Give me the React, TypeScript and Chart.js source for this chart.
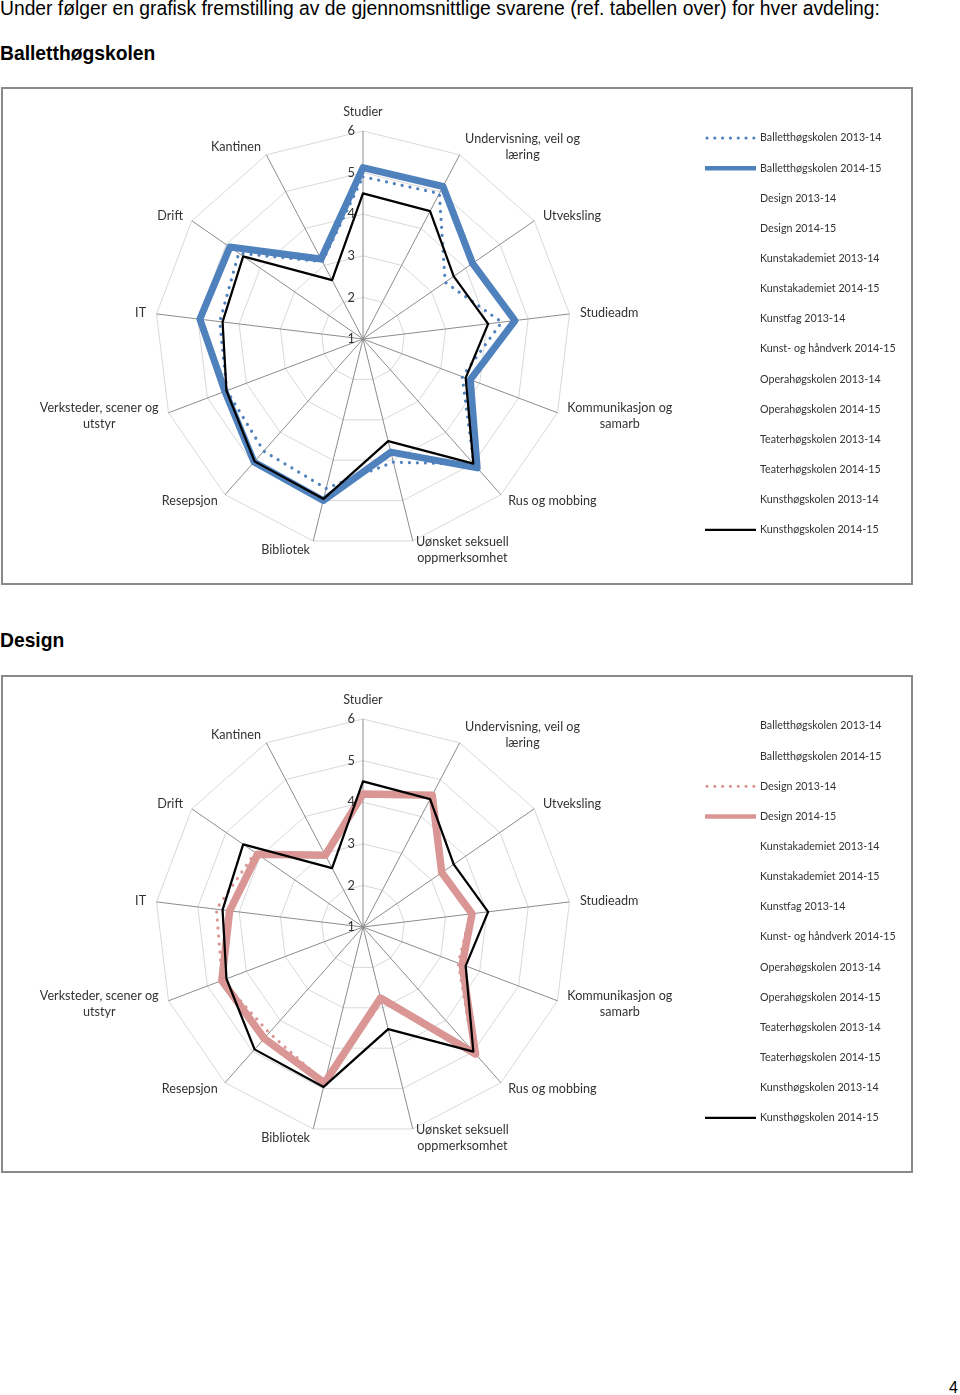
import React, { useEffect, useRef } from 'react';
import { Chart, registerables } from 'chart.js';

Chart.register(...registerables);

// ---------- data ----------
const categories: string[][] = [
  ['Studier'],
  ['Undervisning, veil og', 'læring'],
  ['Utveksling'],
  ['Studieadm'],
  ['Kommunikasjon og', 'samarb'],
  ['Rus og mobbing'],
  ['Uønsket seksuell', 'oppmerksomhet'],
  ['Bibliotek'],
  ['Resepsjon'],
  ['Verksteder, scener og', 'utstyr'],
  ['IT'],
  ['Drift'],
  ['Kantinen'],
];

const tickLabels = [1, 2, 3, 4, 5, 6];

const legendLabels = [
  'Balletthøgskolen 2013-14',
  'Balletthøgskolen 2014-15',
  'Design 2013-14',
  'Design 2014-15',
  'Kunstakademiet 2013-14',
  'Kunstakademiet 2014-15',
  'Kunstfag 2013-14',
  'Kunst- og håndverk 2014-15',
  'Operahøgskolen 2013-14',
  'Operahøgskolen 2014-15',
  'Teaterhøgskolen 2013-14',
  'Teaterhøgskolen 2014-15',
  'Kunsthøgskolen 2013-14',
  'Kunsthøgskolen 2014-15',
];

const balletthogskolen1314 = [4.9, 4.95, 3.4, 4.36, 3.55, 5.02, 4.05, 4.7, 4.6, 4.5, 4.47, 4.63, 3.1];
const balletthogskolen1415 = [5.12, 5.14, 4.2, 4.68, 3.76, 5.14, 3.8, 5.0, 4.95, 4.55, 4.95, 4.89, 3.17];
const design1314 = [4.2, 4.55, 3.3, 3.6, 3.45, 5.0, 2.85, 4.85, 4.4, 4.62, 4.55, 4.15, 2.95];
const design1415 = [4.2, 4.58, 3.3, 3.64, 3.55, 5.08, 2.76, 4.86, 4.58, 4.63, 4.23, 4.08, 2.95];
const kunsthogskolen1415 = [4.5, 4.47, 3.65, 4.03, 3.64, 5.0, 3.53, 4.96, 4.93, 4.51, 4.4, 4.5, 2.6];

// ---------- styles ----------
const BLUE = '#4f81bd';
const PINK = '#d99694';
const TEXT = '#333333';
const FONT = 'Lato, "Liberation Sans", sans-serif';

type Series = {
  label: string;
  data: number[];
  color: string;
  width: number;
  legendWidth: number;
  dotted: boolean;
  order: number;
};

function makeDataset(s: Series) {
  return {
    label: s.label,
    data: s.data,
    borderColor: s.color,
    backgroundColor: 'rgba(0,0,0,0)',
    fill: false,
    borderWidth: s.width,
    borderDash: s.dotted ? [0.01, 8] : [],
    borderCapStyle: s.dotted ? 'round' : 'butt',
    borderJoinStyle: 'round',
    pointRadius: 0,
    pointHoverRadius: 0,
    tension: 0,
    order: s.order,
    legendWidth: s.legendWidth,
    dotted: s.dotted,
  };
}

const excelTextPlugin = {
  id: 'excelText',
  afterDatasetsDraw(chart: any) {
    const r: any = chart.scales.r;
    const ctx: CanvasRenderingContext2D = chart.ctx;
    ctx.save();
    ctx.fillStyle = TEXT;
    ctx.textBaseline = 'middle';

    // tick labels, left of the vertical axis
    ctx.font = `12.8px ${FONT}`;
    ctx.textAlign = 'right';
    tickLabels.forEach((v) => {
      ctx.fillText(String(v), r.xCenter - 8, r.yCenter - r.getDistanceFromCenterForValue(v));
    });

    // category labels
    const lineH = 16.5;
    ctx.font = `12.6px ${FONT}`;
    ctx.textAlign = 'center';
    categories.forEach((lines, i) => {
      const p = r.getPointPosition(i, r.drawingArea);
      const a = r.getIndexAngle(i);
      const s = Math.sin(a);
      const c = Math.cos(a);
      const bw = Math.max(...lines.map((l) => ctx.measureText(l).width));
      const bh = lines.length * lineH;
      let cx: number;
      let cy: number;
      if (Math.abs(s) < 0.05) {
        cx = p.x;
        cy = p.y - 11 - bh / 2;
      } else {
        const gap = 1 + 9.5 * Math.abs(s);
        cx = s > 0 ? p.x + gap + bw / 2 : p.x - gap - bw / 2;
        cy = p.y - 9 * c;
      }
      lines.forEach((l, k) => ctx.fillText(l, cx, cy - bh / 2 + lineH * (k + 0.5)));
    });

    // legend
    const lx = 702;
    const ly = 49;
    const step = 30.15;
    ctx.font = `10.7px ${FONT}`;
    ctx.textAlign = 'left';
    legendLabels.forEach((label, k) => {
      const y = ly + k * step;
      const ds = chart.data.datasets.find((d: any) => d.label === label);
      if (ds) {
        ctx.save();
        ctx.strokeStyle = ds.borderColor;
        ctx.lineWidth = ds.legendWidth;
        ctx.lineCap = ds.dotted ? 'round' : 'butt';
        ctx.setLineDash(ds.dotted ? [0.01, 7.8] : []);
        ctx.beginPath();
        ctx.moveTo(lx + (ds.dotted ? 2 : 0), y);
        ctx.lineTo(lx + 51, y);
        ctx.stroke();
        ctx.restore();
      }
      ctx.fillText(label, lx + 55, y);
    });
    ctx.restore();
  },
};

function RadarBox({ top, series }: { top: number; series: Series[] }) {
  const ref = useRef<HTMLCanvasElement>(null);
  useEffect(() => {
    const chart = new Chart(ref.current as HTMLCanvasElement, {
      type: 'radar',
      data: {
        labels: categories.map((c) => c.join(' ')),
        datasets: series.map(makeDataset) as any,
      },
      options: {
        responsive: false,
        animation: false,
        devicePixelRatio: 1,
        layout: { padding: { left: 152, right: 340, top: 42, bottom: 36 } },
        plugins: {
          legend: { display: false },
          tooltip: { enabled: false },
        },
        scales: {
          r: {
            min: 1,
            max: 6,
            startAngle: 0,
            ticks: { stepSize: 1, display: false },
            grid: { color: '#d9d9d9', lineWidth: 1 },
            angleLines: { color: '#8c8c8c', lineWidth: 1 },
            pointLabels: { display: false },
          },
        },
      } as any,
      plugins: [excelTextPlugin],
    });
    return () => chart.destroy();
  }, []);
  return (
    <div
      style={{
        position: 'absolute',
        left: 1,
        top,
        width: 912,
        height: 498,
        border: '2px solid #898989',
        boxSizing: 'border-box',
        background: '#fff',
      }}
    >
      <canvas ref={ref} width={908} height={494} style={{ display: 'block', width: 908, height: 494 }} />
    </div>
  );
}

const pageText: React.CSSProperties = {
  position: 'absolute',
  left: 0,
  margin: 0,
  fontFamily: '"Liberation Sans", Arial, sans-serif',
  fontSize: '19.3px',
  lineHeight: '20px',
  color: '#000',
  whiteSpace: 'nowrap',
};

export default function App() {
  const ballettSeries: Series[] = [
    { label: 'Balletthøgskolen 2013-14', data: balletthogskolen1314, color: BLUE, width: 3.2, legendWidth: 3.2, dotted: true, order: 2 },
    { label: 'Balletthøgskolen 2014-15', data: balletthogskolen1415, color: BLUE, width: 7, legendWidth: 4.5, dotted: false, order: 1 },
    { label: 'Kunsthøgskolen 2014-15', data: kunsthogskolen1415, color: '#000000', width: 2.25, legendWidth: 2.25, dotted: false, order: 0 },
  ];
  const designSeries: Series[] = [
    { label: 'Design 2013-14', data: design1314, color: PINK, width: 3.2, legendWidth: 3.2, dotted: true, order: 2 },
    { label: 'Design 2014-15', data: design1415, color: PINK, width: 7.5, legendWidth: 4.5, dotted: false, order: 1 },
    { label: 'Kunsthøgskolen 2014-15', data: kunsthogskolen1415, color: '#000000', width: 2.25, legendWidth: 2.25, dotted: false, order: 0 },
  ];
  return (
    <div>
      <div style={{ ...pageText, top: -0.7 }}>
        Under følger en grafisk fremstilling av de gjennomsnittlige svarene (ref. tabellen over) for hver avdeling:
      </div>
      <div style={{ ...pageText, top: 44.3, fontWeight: 'bold' }}>Balletthøgskolen</div>
      <RadarBox top={87} series={ballettSeries} />
      <div style={{ ...pageText, top: 631.3, fontWeight: 'bold' }}>Design</div>
      <RadarBox top={675} series={designSeries} />
      <div style={{ ...pageText, top: 1377.5, left: 949, fontSize: '16px' }}>4</div>
    </div>
  );
}
